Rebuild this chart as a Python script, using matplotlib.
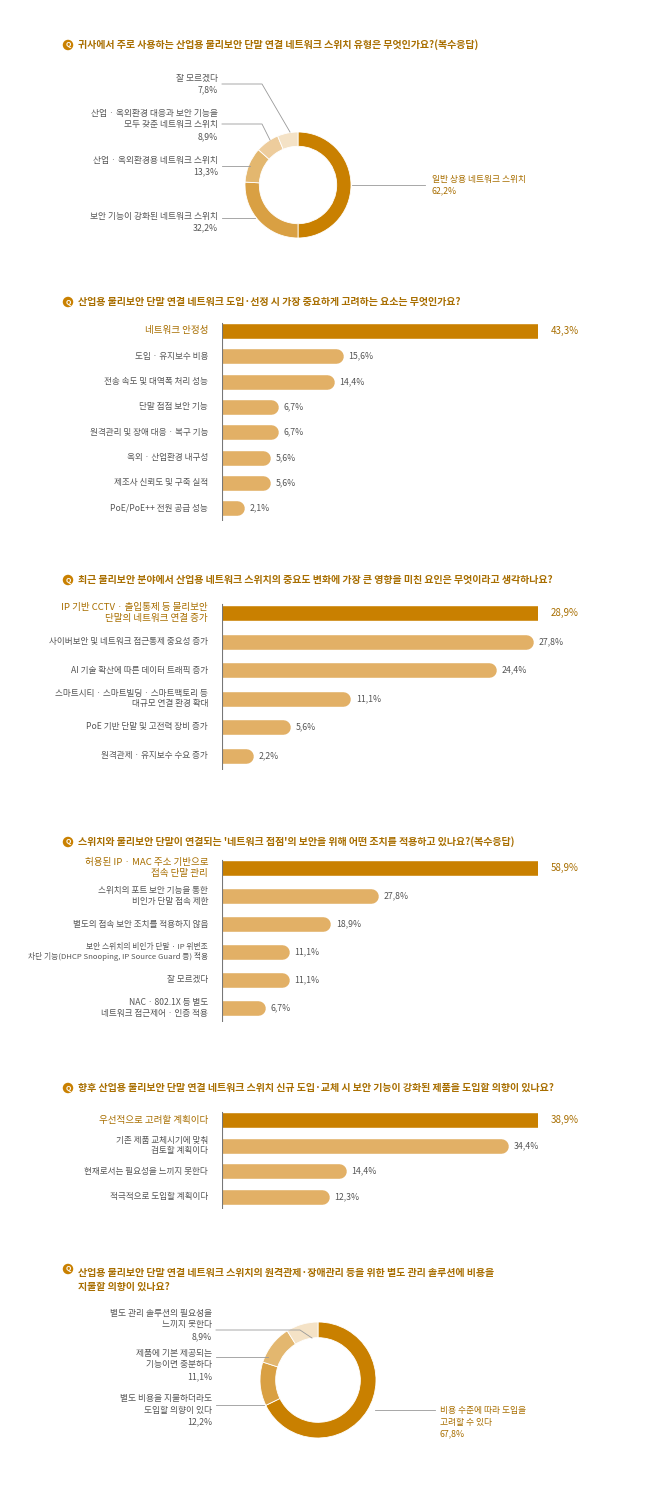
import matplotlib.pyplot as plt

plt.rcParams['font.family'] = ['Noto Sans CJK KR', 'DejaVu Sans']

W, H = 658, 1485
GOLD = '#C98000'
LIGHT = '#E2B066'
TXT = '#555555'
TITLE = '#A86E00'

# ---- data ----
q1_title = '귀사에서 주로 사용하는 산업용 물리보안 단말 연결 네트워크 스위치 유형은 무엇인가요?(복수응답)'
q1_labels = ['일반 상용 네트워크 스위치', '보안 기능이 강화된 네트워크 스위치', '산업 · 옥외환경용 네트워크 스위치',
             '산업 · 옥외환경 대응과 보안 기능을\n모두 갖춘 네트워크 스위치', '잘 모르겠다']
q1_values = [62.2, 32.2, 13.3, 8.9, 7.8]

q2_title = '산업용 물리보안 단말 연결 네트워크 도입·선정 시 가장 중요하게 고려하는 요소는 무엇인가요?'
q2_labels = ['네트워크 안정성', '도입 · 유지보수 비용', '전송 속도 및 대역폭 처리 성능', '단말 접점 보안 기능',
             '원격관리 및 장애 대응 · 복구 기능', '옥외 · 산업환경 내구성', '제조사 신뢰도 및 구축 실적', 'PoE/PoE++ 전원 공급 성능']
q2_values = [43.3, 15.6, 14.4, 6.7, 6.7, 5.6, 5.6, 2.1]

q3_title = '최근 물리보안 분야에서 산업용 네트워크 스위치의 중요도 변화에 가장 큰 영향을 미친 요인은 무엇이라고 생각하나요?'
q3_labels = ['IP 기반 CCTV · 출입통제 등 물리보안\n단말의 네트워크 연결 증가', '사이버보안 및 네트워크 접근통제 중요성 증가',
             'AI 기술 확산에 따른 데이터 트래픽 증가', '스마트시티 · 스마트빌딩 · 스마트팩토리 등\n대규모 연결 환경 확대',
             'PoE 기반 단말 및 고전력 장비 증가', '원격관제 · 유지보수 수요 증가']
q3_values = [28.9, 27.8, 24.4, 11.1, 5.6, 2.2]

q4_title = "스위치와 물리보안 단말이 연결되는 '네트워크 접점'의 보안을 위해 어떤 조치를 적용하고 있나요?(복수응답)"
q4_labels = ['허용된 IP · MAC 주소 기반으로\n접속 단말 관리', '스위치의 포트 보안 기능을 통한\n비인가 단말 접속 제한',
             '별도의 접속 보안 조치를 적용하지 않음',
             '보안 스위치의 비인가 단말 · IP 위변조\n차단 기능(DHCP Snooping, IP Source Guard 등) 적용',
             '잘 모르겠다', 'NAC · 802.1X 등 별도\n네트워크 접근제어 · 인증 적용']
q4_values = [58.9, 27.8, 18.9, 11.1, 11.1, 6.7]

q5_title = '향후 산업용 물리보안 단말 연결 네트워크 스위치 신규 도입·교체 시 보안 기능이 강화된 제품을 도입할 의향이 있나요?'
q5_labels = ['우선적으로 고려할 계획이다', '기존 제품 교체시기에 맞춰\n검토할 계획이다', '현재로서는 필요성을 느끼지 못한다',
             '적극적으로 도입할 계획이다']
q5_values = [38.9, 34.4, 14.4, 12.3]

q6_title = '산업용 물리보안 단말 연결 네트워크 스위치의 원격관제·장애관리 등을 위한 별도 관리 솔루션에 비용을\n지불할 의향이 있나요?'
q6_labels = ['비용 수준에 따라 도입을\n고려할 수 있다', '별도 비용을 지불하더라도\n도입할 의향이 있다',
             '제품에 기본 제공되는\n기능이면 충분하다', '별도 관리 솔루션의 필요성을\n느끼지 못한다']
q6_values = [67.8, 12.2, 11.1, 8.9]

fig = plt.figure(figsize=(W / 100, H / 100), dpi=100)
fig.patch.set_facecolor('white')


def fx(x):
    return x / W


def fy(y):
    return 1 - y / H


def title(y, text):
    ty = y if '\n' not in text else y + 1
    fig.text(fx(68), fy(ty), 'Q', color='white', fontsize=5, ha='center', va='center', weight='bold',
             bbox=dict(boxstyle='circle,pad=0.25', fc=GOLD, ec='none'))
    fig.text(fx(78), fy(y), text, color=TITLE, fontsize=7.2, ha='left', va='top' if '\n' in text else 'center',
             weight='bold', linespacing=1.5)


def bars(labels, values, y0, spacing, small=()):
    n = len(values)
    top = y0 - spacing / 2
    ax = fig.add_axes([fx(222), fy(top + n * spacing), fx(538 - 222), n * spacing / H])
    ax.set_xlim(0, max(values))
    ax.set_ylim(n - 0.5, -0.5)
    ax.axis('off')
    ax.plot([0, 0], [-0.3, n - 0.5], color='#777777', lw=0.8, zorder=3)
    for i, (lab, v) in enumerate(zip(labels, values)):
        c = GOLD if i == 0 else LIGHT
        ax.plot([0, v], [i, i], color=c, lw=10.5, solid_capstyle='round', zorder=2)
        tc = TITLE if i == 0 else TXT
        ax.annotate(f'{v:.1f}%'.replace('.', ','), (v, i), xytext=(9, 0), textcoords='offset points',
                    va='center', ha='left', fontsize=6.3 if i else 7, color=tc, annotation_clip=False)
        fs = 5.6 if i in small else (6.2 if i else 6.9)
        ax.annotate(lab, (0, i), xytext=(-10, 0), textcoords='offset points', va='center', ha='right',
                    fontsize=fs, color=tc, linespacing=1.2, annotation_clip=False)


def donut(values, colors, cx, cy, r, label_specs):
    ax = fig.add_axes([fx(cx - r), fy(cy + r), 2 * r / W, 2 * r / H])
    ax.pie(values, colors=colors, startangle=90, counterclock=False, radius=1,
           wedgeprops=dict(width=0.27, edgecolor='white', linewidth=0.6))
    ax.set_xlim(-1, 1)
    ax.set_ylim(-1, 1)
    ax.set_aspect('auto')
    for (text, v, tx, ty, ha, col, lx, ly) in label_specs:
        fig.text(fx(tx), fy(ty), f'{text}\n{v:.1f}%'.replace('.', ','), ha=ha, va='center', fontsize=6.3,
                 color=col, linespacing=1.4)
        fig.add_artist(plt.Line2D([fx(p) for p in lx], [fy(p) for p in ly],
                                  transform=fig.transFigure, color='#999999', lw=0.6))


# section 1
title(45, q1_title)
pie_colors = [GOLD, '#D9A043', '#E3B76F', '#EDCC9C', '#F4E2C6']
donut(q1_values, pie_colors, 298, 185, 53, [
    (q1_labels[0], q1_values[0], 432, 185, 'left', TITLE, [352, 425], [185, 185]),
    (q1_labels[1], q1_values[1], 218, 222, 'right', TXT, [222, 255], [218, 218]),
    (q1_labels[2], q1_values[2], 218, 166, 'right', TXT, [222, 250], [166, 166]),
    (q1_labels[3], q1_values[3], 218, 125, 'right', TXT, [222, 262, 270], [124, 124, 140]),
    (q1_labels[4], q1_values[4], 218, 84, 'right', TXT, [222, 262, 290], [84, 84, 132]),
])

# section 2
title(302, q2_title)
bars(q2_labels, q2_values, 331, 25.3)

# section 3
title(580, q3_title)
bars(q3_labels, q3_values, 613, 28.5)

# section 4
title(842, q4_title)
bars(q4_labels, q4_values, 868, 28, small=(3,))

# section 5
title(1088, q5_title)
bars(q5_labels, q5_values, 1120, 25.5)

# section 6
title(1268, q6_title)
donut(q6_values, [GOLD, '#D9A043', '#E3B76F', '#F4E2C6'], 318, 1380, 58, [
    (q6_labels[0], q6_values[0], 440, 1422, 'left', TITLE, [375, 435], [1410, 1410]),
    (q6_labels[1], q6_values[1], 212, 1410, 'right', TXT, [216, 264], [1405, 1405]),
    (q6_labels[2], q6_values[2], 212, 1365, 'right', TXT, [216, 268], [1357, 1357]),
    (q6_labels[3], q6_values[3], 212, 1325, 'right', TXT, [216, 300, 312], [1330, 1330, 1338]),
])

fig.savefig('out.png', dpi=100, facecolor='white')
